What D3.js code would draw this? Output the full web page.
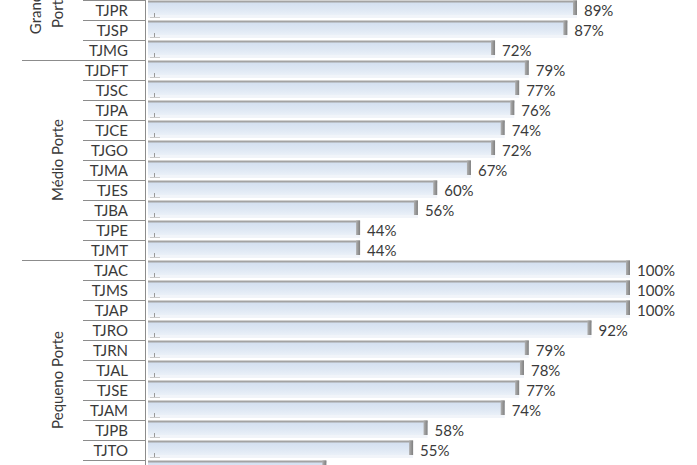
<!DOCTYPE html>
<html>
<head>
<meta charset="utf-8">
<script src="https://cdn.jsdelivr.net/npm/d3@7"></script>
<style>
  html, body { margin: 0; padding: 0; background: #fff; }
  svg { display: block; }
  text { font-family: Lato, "Open Sans", sans-serif; fill: #3a3a3a; }
</style>
</head>
<body>
<svg id="chart" width="697" height="465"></svg>
<script>
// Categories (top two and bottom two rows fall outside the visible crop)
const categories = ["TJRJ","TJRS","TJPR","TJSP","TJMG",
  "TJDFT","TJSC","TJPA","TJCE","TJGO","TJMA","TJES","TJBA","TJPE","TJMT",
  "TJAC","TJMS","TJAP","TJRO","TJRN","TJAL","TJSE","TJAM","TJPB","TJTO","TJPI","TJRR"];
const values = [100, 95, 89, 87, 72,
  79, 77, 76, 74, 72, 67, 60, 56, 44, 44,
  100, 100, 100, 92, 79, 78, 77, 74, 58, 55, 37, 30];
const groupNames = [["Grande", "Porte"], ["Médio Porte"], ["Pequeno Porte"]];
const groupSizes = [5, 10, 12];
const xTicks = [0, 100];

const svg = d3.select("#chart");
const W = 697, H = 465;

const y = d3.scaleBand().domain(categories).range([-40, -40 + 20 * categories.length]).paddingInner(0).paddingOuter(0);
const x = d3.scaleLinear().domain(xTicks).range([148, 630]);

const defs = svg.append("defs");
const grad = defs.append("linearGradient").attr("id", "barGrad").attr("x1", 0).attr("x2", 0).attr("y1", 0).attr("y2", 1);
grad.append("stop").attr("offset", "0%").attr("stop-color", "#d3dff0");
grad.append("stop").attr("offset", "60%").attr("stop-color", "#dfe8f4");
grad.append("stop").attr("offset", "100%").attr("stop-color", "#eaf0f8");
const capGrad = defs.append("linearGradient").attr("id", "capGrad").attr("x1", 0).attr("x2", 1).attr("y1", 0).attr("y2", 0);
capGrad.append("stop").attr("offset", "0%").attr("stop-color", "#b0b0b0");
capGrad.append("stop").attr("offset", "100%").attr("stop-color", "#7f7f7f");

const data = categories.map((c, i) => ({ c, v: values[i] }));
const bh = y.bandwidth();

// soft floor band under each bar
svg.append("g").selectAll("rect").data(data).join("rect")
  .attr("x", x(0))
  .attr("y", d => y(d.c) + 15)
  .attr("width", d => x(d.v) - x(0))
  .attr("height", 3)
  .attr("fill", "#f1f4f9");

// bar bodies
svg.append("g").selectAll("rect").data(data).join("rect")
  .attr("x", x(0))
  .attr("y", d => y(d.c) + 2)
  .attr("width", d => x(d.v) - x(0))
  .attr("height", 13)
  .attr("fill", "url(#barGrad)");

// top face
svg.append("g").selectAll("rect").data(data).join("rect")
  .attr("x", x(0))
  .attr("y", d => y(d.c) + 0.5)
  .attr("width", d => x(d.v) - x(0))
  .attr("height", 2)
  .attr("fill", "#a3a3a3");

// right end face
svg.append("g").selectAll("rect").data(data).join("rect")
  .attr("x", d => x(d.v) - 4)
  .attr("y", d => y(d.c) + 0.5)
  .attr("width", 4)
  .attr("height", 14.5)
  .attr("fill", "url(#capGrad)");

// small corner marks at the bar base
const marks = svg.append("g").attr("stroke", "#9a9a9a").attr("stroke-width", 1);
marks.selectAll("line.v").data(data).join("line").attr("class", "v")
  .attr("x1", 154.5).attr("x2", 154.5)
  .attr("y1", d => y(d.c) + 13).attr("y2", d => y(d.c) + 17);
marks.selectAll("line.h").data(data).join("line").attr("class", "h")
  .attr("x1", 150).attr("x2", 160)
  .attr("y1", d => y(d.c) + 17.5).attr("y2", d => y(d.c) + 17.5)
  .attr("stroke", "#c8c8c8");

// value labels
svg.append("g").selectAll("text").data(data).join("text")
  .attr("x", d => x(d.v) + 7)
  .attr("y", d => y(d.c) + bh / 2 + 2)
  .attr("dominant-baseline", "middle")
  .attr("font-size", 15)
  .text(d => d.v + "%");

// category axis line
svg.append("line")
  .attr("x1", 145.5).attr("x2", 145.5)
  .attr("y1", y.range()[0]).attr("y2", y.range()[1])
  .attr("stroke", "#8c8c8c").attr("stroke-width", 1);

// category labels
svg.append("g").selectAll("text").data(categories).join("text")
  .attr("x", 128)
  .attr("y", d => y(d) + bh / 2 + 2)
  .attr("text-anchor", "end")
  .attr("dominant-baseline", "middle")
  .attr("font-size", 15)
  .text(d => d);

// row separators and group separators
let start = 0;
const groupBounds = [];
groupSizes.forEach(n => { groupBounds.push([start, start + n]); start += n; });
const sepG = svg.append("g").attr("stroke", "#8c8c8c").attr("stroke-width", 1);
categories.forEach((c, i) => {
  const isGroupStart = groupBounds.some(b => b[0] === i);
  const yy = Math.round(y(c)) + 0.5;
  sepG.append("line")
    .attr("x1", isGroupStart ? 22 : 83).attr("x2", 145.5)
    .attr("y1", yy).attr("y2", yy);
});
const lastY = Math.round(y.range()[1]) + 0.5;
sepG.append("line").attr("x1", 22).attr("x2", 145.5).attr("y1", lastY).attr("y2", lastY);

// group labels (rotated)
groupBounds.forEach((b, gi) => {
  const y0 = y(categories[b[0]]);
  const y1 = y(categories[b[1] - 1]) + bh;
  const cy = (y0 + y1) / 2;
  const lines = groupNames[gi];
  const t = svg.append("text")
    .attr("transform", `translate(0,${cy}) rotate(-90)`)
    .attr("text-anchor", "middle")
    .attr("font-size", 15);
  lines.forEach((ln, k) => {
    const cx = 58 - 22 * (lines.length - 1 - k);
    t.append("tspan").attr("x", 0).attr("y", cx + 5).text(ln);
  });
});
</script>
</body>
</html>
